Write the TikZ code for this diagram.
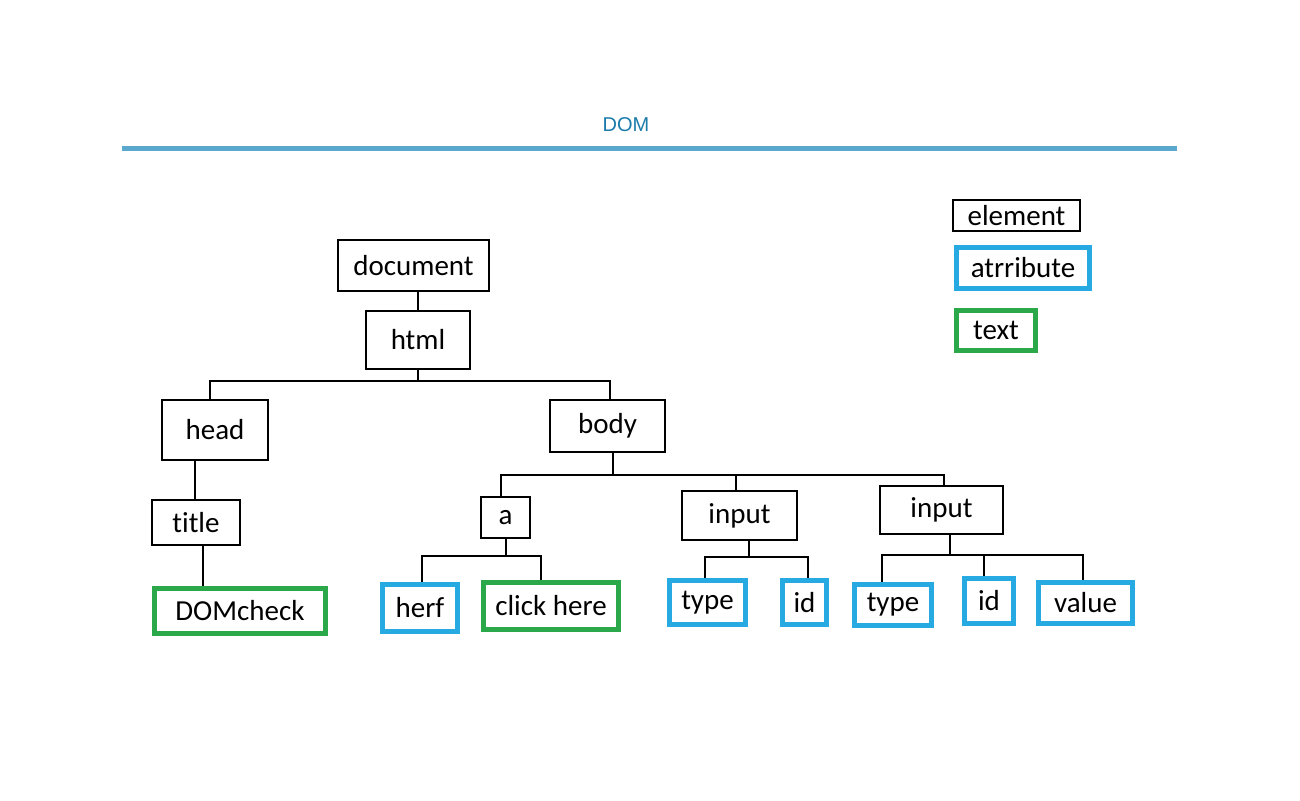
\documentclass[tikz,border=0pt]{standalone}
\usepackage{fontspec}
\setmainfont{Carlito}[Ligatures=NoCommon]
\newfontfamily\headfont{Liberation Sans}
\definecolor{attrblue}{HTML}{27A9E1}
\definecolor{textgreen}{HTML}{2BA84A}
\definecolor{titleblue}{HTML}{1A7BAA}
\definecolor{ruleblue}{HTML}{5BA8CE}
\tikzset{
  elem/.style={draw=black,line width=1pt,inner sep=0pt,font=\fontsize{14.5}{17}\selectfont},
  attr/.style={draw=attrblue,line width=2.5pt,inner sep=0pt,font=\fontsize{14.5}{17}\selectfont},
  txt/.style={draw=textgreen,line width=2.5pt,inner sep=0pt,font=\fontsize{14.5}{17}\selectfont},
  link/.style={black,line width=1pt}
}

\begin{document}
\begin{tikzpicture}[x=0.5pt,y=-0.5pt]
\path[use as bounding box] (0,0) rectangle (1300,800);
\node[font=\headfont\fontsize{10}{12}\selectfont,text=titleblue] (heading) at (626,125) {DOM};
\draw[ruleblue,line width=2.5pt] (122,148) -- (1177,148);
% element nodes
\node[elem,minimum width=75.5pt,minimum height=25.5pt] (document) at (413.5,265.5) {document};
\node[elem,minimum width=52pt,minimum height=29pt] (html) at (418,340) {html};
\node[elem,minimum width=53pt,minimum height=30pt] (head) at (215,430) {head};
\node[elem,minimum width=57.5pt,minimum height=26pt] (body) at (607.5,426) {body};
\node[elem,minimum width=44pt,minimum height=22.5pt] (title) at (196,522.5) {title};
\node[elem,minimum width=24.5pt,minimum height=20.5pt] (a) at (505.5,517.5) {a};
\node[elem,minimum width=57.5pt,minimum height=24.5pt] (inputA) at (739.5,515.5) {input};
\node[elem,minimum width=61.5pt,minimum height=24pt] (inputB) at (941.5,510) {input};
% text and attribute nodes
\node[txt,minimum width=85.5pt,minimum height=22.5pt] (domcheck) at (240,611) {DOMcheck};
\node[attr,minimum width=37.5pt,minimum height=23.5pt] (herf) at (420,608) {herf};
\node[txt,minimum width=67.5pt,minimum height=23.5pt] (click) at (551,606) {click here};
\node[attr,minimum width=38pt,minimum height=22pt] (typeA) at (707.5,602.5) {type};
\node[attr,minimum width=22pt,minimum height=22pt] (idA) at (804.5,602.5) {id};
\node[attr,minimum width=38.5pt,minimum height=20.5pt] (typeB) at (893,605) {type};
\node[attr,minimum width=24.5pt,minimum height=22.5pt] (idB) at (989,601) {id};
\node[attr,minimum width=47pt,minimum height=20.5pt] (value) at (1085.5,603) {value};
% legend
\node[elem,minimum width=63.5pt,minimum height=15.5pt] (legelem) at (1016.5,215.5) {element};
\node[attr,minimum width=66.5pt,minimum height=20.5pt] (legattr) at (1023,268) {atrribute};
\node[txt,minimum width=39.5pt,minimum height=20pt] (legtext) at (996,330.5) {text};
% connectors
\draw[link] (html.north) -- (html.north |- document.south);
\draw[link] (html.south) -- ++(0,11) -| ([xshift=-2.5pt]head.north);
\draw[link] (html.south) ++(0,11) -| ([xshift=1.25pt]body.north);
\draw[link] ([xshift=-10pt]head.south) -- ([xshift=-0.5pt]title.north);
\draw[link] ([xshift=3.5pt]title.south) -- ([xshift=-18.5pt]domcheck.north);
\draw[link] ([xshift=2.75pt]body.south) -- ++(0,22) -| ([xshift=-2.25pt]a.north);
\draw[link] ([xshift=2.75pt]body.south) ++(0,22) -| ([xshift=-1.75pt]inputA.north);
\draw[link] ([xshift=2.75pt]body.south) ++(0,22) -| ([xshift=1.25pt]inputB.north);
\draw[link] (a.south) -- ++(0,17) -| ([xshift=1pt]herf.north);
\draw[link] (a.south) ++(0,17) -| ([xshift=-5pt]click.north);
\draw[link] ([xshift=4.75pt]inputA.south) -- ++(0,16) -| ([xshift=-1.25pt]typeA.north);
\draw[link] ([xshift=4.75pt]inputA.south) ++(0,16) -| ([xshift=1.75pt]idA.north);
\draw[link] ([xshift=4.25pt]inputB.south) -- ++(0,20) -| ([xshift=-5.5pt]typeB.north);
\draw[link] ([xshift=4.25pt]inputB.south) ++(0,20) -| ([xshift=-2.5pt]idB.north);
\draw[link] ([xshift=4.25pt]inputB.south) ++(0,20) -| ([xshift=-1.25pt]value.north);
\end{tikzpicture}
\end{document}
